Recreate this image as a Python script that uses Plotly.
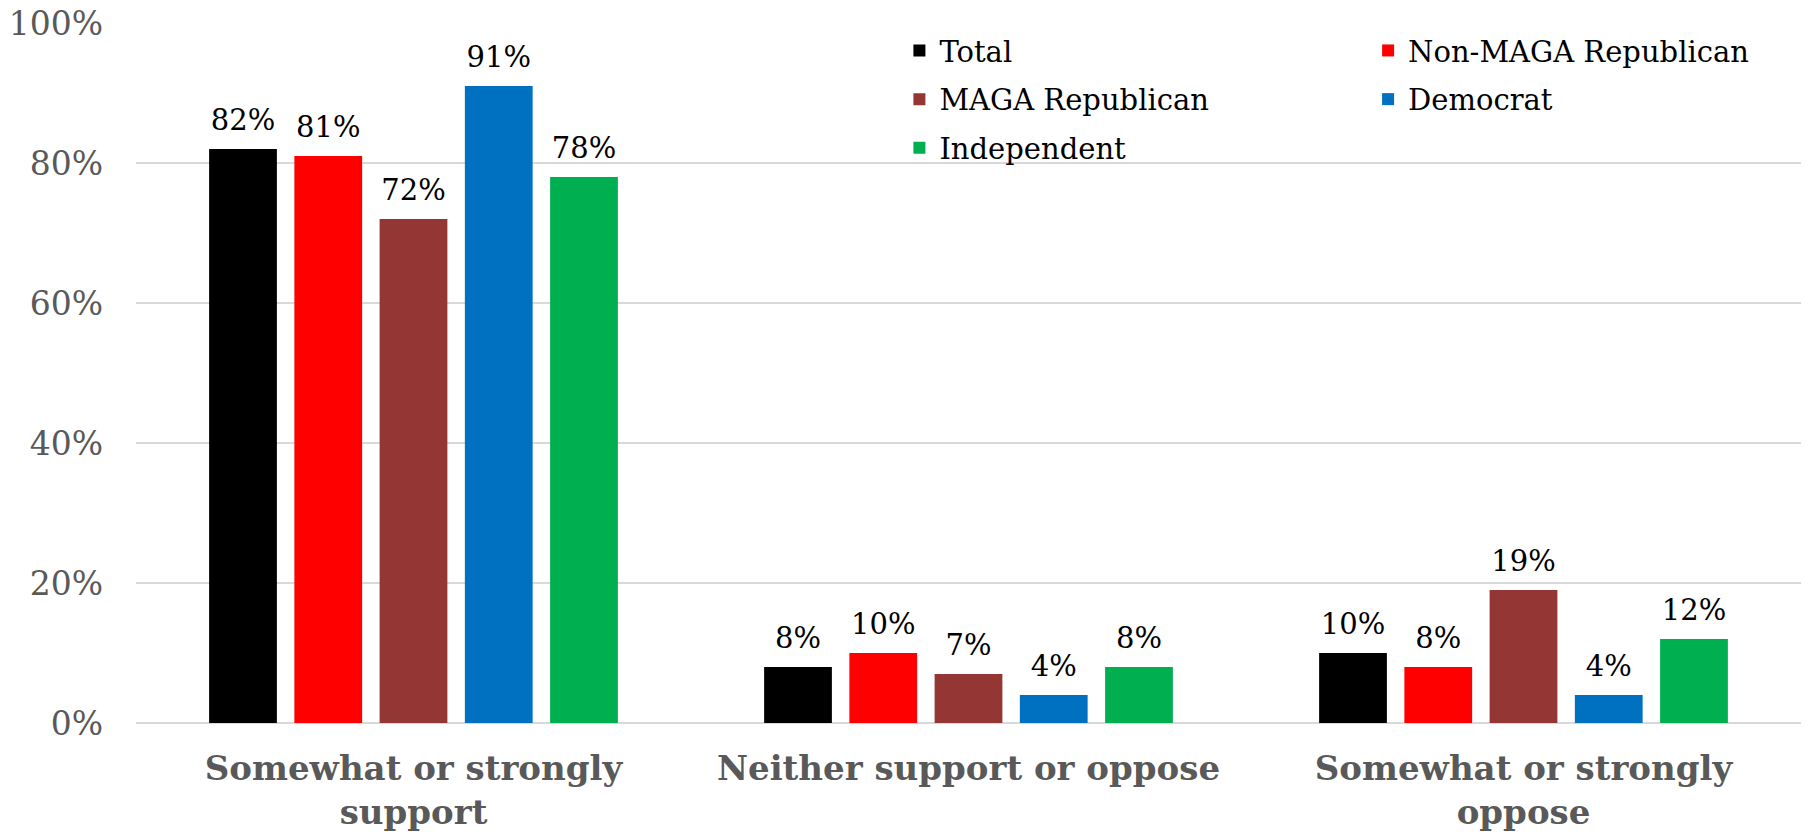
import plotly.graph_objects as go

categories = ["Somewhat or strongly<br>support", "Neither support or oppose", "Somewhat or strongly<br>oppose"]
series_names = ["Total", "Non-MAGA Republican", "MAGA Republican", "Democrat", "Independent"]
total = [82, 8, 10]
non_maga = [81, 10, 8]
maga = [72, 7, 19]
democrat = [91, 4, 4]
independent = [78, 8, 12]
y_ticks = [0, 20, 40, 60, 80, 100]
y_tick_labels = ["0%", "20%", "40%", "60%", "80%", "100%"]

values = [total, non_maga, maga, democrat, independent]
colors = ["#000000", "#FF0000", "#943634", "#0070C0", "#00B050"]
legend_ids = ["legend", "legend2", "legend", "legend2", "legend"]

FONT = "Georgia, 'DejaVu Serif', serif"

fig = go.Figure()
for name, vals, col, lg in zip(series_names, values, colors, legend_ids):
    fig.add_trace(go.Bar(
        x=categories, y=vals, name=name, legend=lg, legendgroup=name,
        offsetgroup=name,
        marker=dict(color=col, line=dict(width=0)),
        hoverinfo="skip",
    ))
# value labels, placed above bars through grouped scatter positions
for name, vals in zip(series_names, values):
    fig.add_trace(go.Scatter(
        x=categories, y=vals, mode="markers+text", showlegend=False,
        marker=dict(size=18, opacity=0), offsetgroup=name,
        text=[f"{v}%" for v in vals], textposition="top center",
        textfont=dict(family=FONT, size=29, color="#000000"),
        cliponaxis=False, hoverinfo="skip",
    ))

legend_common = dict(
    orientation="v", traceorder="grouped", tracegroupgap=8,
    font=dict(family=FONT, size=29, color="#000000"),
    bgcolor="rgba(0,0,0,0)", yanchor="top", xanchor="left",
)

fig.update_layout(
    width=1808, height=832,
    margin=dict(l=136, r=7, t=23, b=109, autoexpand=False),
    paper_bgcolor="white", plot_bgcolor="white",
    barmode="group", bargap=0.232, bargroupgap=0.205,
    scattermode="group", scattergap=0.232,
    font=dict(family=FONT, color="#595959"),
    legend=dict(x=0.4585, y=0.997, **legend_common),
    legend2=dict(x=0.740, y=0.997, **legend_common),
    showlegend=True,
)
fig.update_yaxes(
    range=[0, 100.01], tickvals=y_ticks, ticktext=y_tick_labels,
    showgrid=True, gridcolor="#D9D9D9", gridwidth=2,
    zeroline=True, zerolinecolor="#D9D9D9", zerolinewidth=2,
    showline=False, ticks="", ticklabelstandoff=32, automargin=False,
    ticklabeloverflow="allow",
    tickfont=dict(family=FONT, size=33, color="#595959"),
)
fig.update_xaxes(
    showline=False, ticks="", showgrid=False, automargin=False,
    ticklabelstandoff=22, ticklabeloverflow="allow",
    tickfont=dict(family=FONT, size=34, color="#595959", weight="bold"),
)

fig.write_html("out.html", config={"displayModeBar": False},
               post_script="document.body.style.margin='0';")
